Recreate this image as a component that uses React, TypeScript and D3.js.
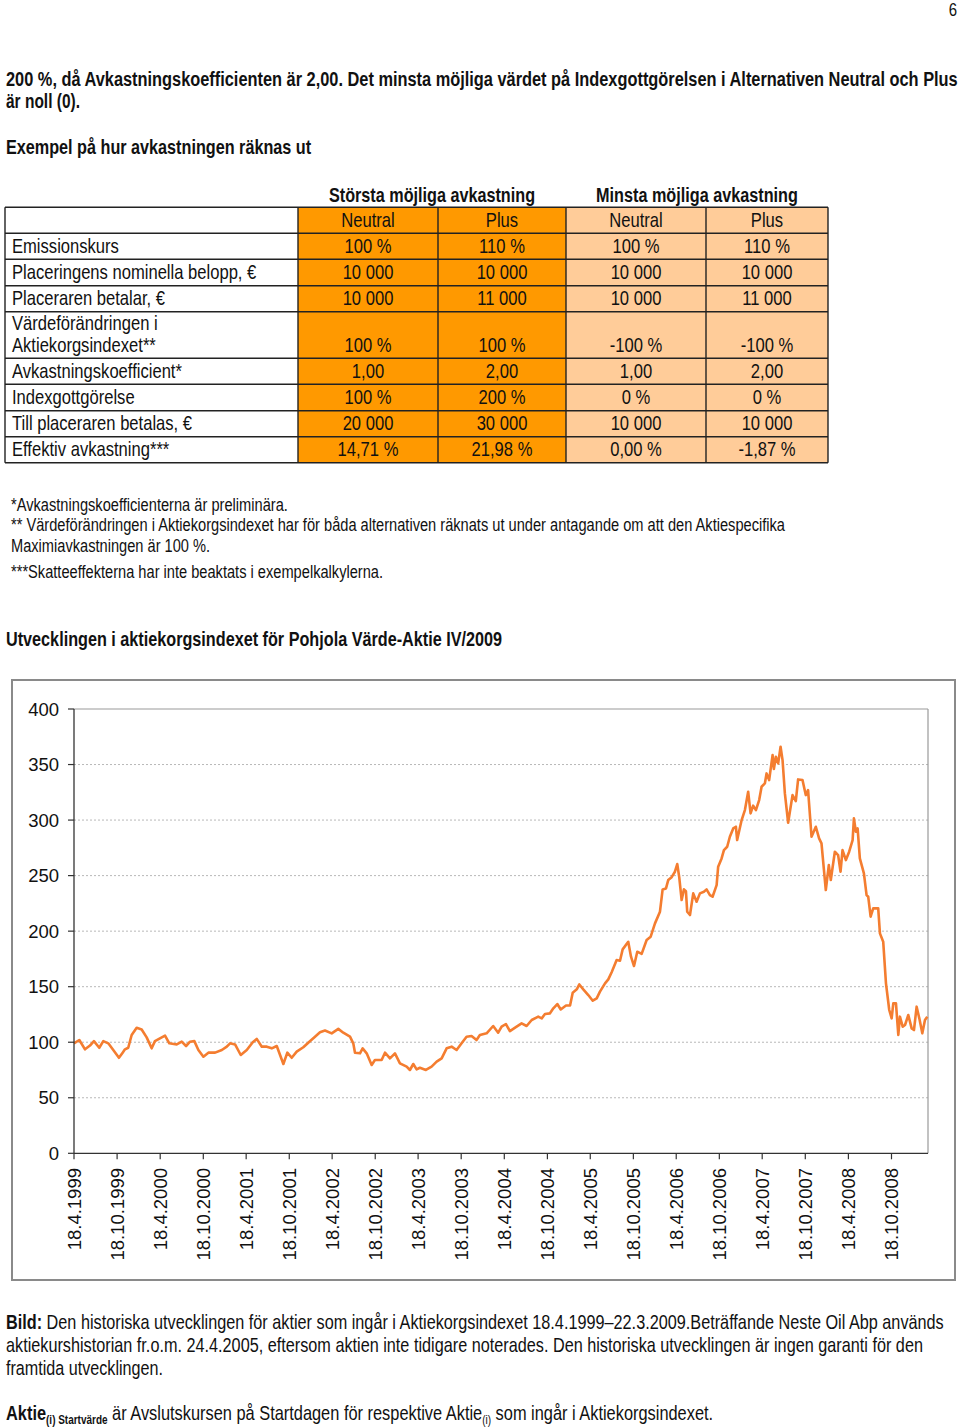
import React, { useLayoutEffect, useRef, useState } from 'react';
import * as d3 from 'd3';

// ---------- DATA ----------
const X_TICK_LABELS = [
  '18.4.1999', '18.10.1999', '18.4.2000', '18.10.2000', '18.4.2001', '18.10.2001',
  '18.4.2002', '18.10.2002', '18.4.2003', '18.10.2003', '18.4.2004', '18.10.2004',
  '18.4.2005', '18.10.2005', '18.4.2006', '18.10.2006', '18.4.2007', '18.10.2007',
  '18.4.2008', '18.10.2008',
];
const Y_TICKS = [0, 50, 100, 150, 200, 250, 300, 350, 400];
const DATE_START = '18.4.1999';
const DATE_END = '22.3.2009';

// [decimal year, index value]
const INDEX_POINTS: [number, number][] = [
  [1999.293, 99], [1999.355, 102], [1999.421, 93.6], [1999.479, 97], [1999.525, 101],
  [1999.587, 95], [1999.634, 101], [1999.692, 99], [1999.750, 93], [1999.816, 86],
  [1999.859, 90.6], [1999.886, 93.6], [1999.924, 95], [1999.964, 106.5], [2000.022, 113],
  [2000.080, 111.5], [2000.138, 104.4], [2000.196, 94.5], [2000.234, 101], [2000.292, 103.5],
  [2000.351, 106], [2000.401, 99], [2000.487, 98], [2000.545, 100.5], [2000.595, 96.6],
  [2000.641, 100.5], [2000.691, 101], [2000.738, 93], [2000.796, 87], [2000.854, 90.6],
  [2000.932, 90.6], [2001.010, 93], [2001.068, 96], [2001.106, 99], [2001.164, 98],
  [2001.230, 88.5], [2001.300, 93], [2001.370, 100], [2001.416, 103], [2001.475, 96],
  [2001.533, 96], [2001.591, 94.5], [2001.649, 96.6], [2001.726, 80.4], [2001.772, 90.6],
  [2001.823, 86], [2001.881, 91.5], [2001.958, 95.5], [2002.028, 100.5], [2002.094, 105],
  [2002.152, 109], [2002.210, 110.5], [2002.288, 108], [2002.365, 112], [2002.423, 108.6],
  [2002.501, 105], [2002.539, 99], [2002.559, 90.6], [2002.617, 90], [2002.648, 94.5],
  [2002.695, 90], [2002.753, 79.5], [2002.791, 84], [2002.869, 84], [2002.908, 90.6],
  [2002.966, 85.5], [2003.024, 90], [2003.082, 81], [2003.160, 78], [2003.198, 75],
  [2003.237, 80.4], [2003.276, 75.5], [2003.314, 77], [2003.384, 75], [2003.450, 78],
  [2003.509, 82.5], [2003.567, 85.5], [2003.625, 94.5], [2003.683, 96], [2003.741, 93],
  [2003.799, 99], [2003.857, 105], [2003.915, 105.6], [2003.973, 102],
  [2004.012, 106.5], [2004.090, 108], [2004.166, 114.6], [2004.224, 108.6], [2004.264, 114],
  [2004.314, 116.4], [2004.360, 110], [2004.438, 114], [2004.496, 117], [2004.554, 114.6],
  [2004.613, 120], [2004.689, 123], [2004.729, 121.5], [2004.767, 125.4], [2004.825, 126],
  [2004.864, 130.5], [2004.910, 134.4], [2004.950, 129.5], [2005.011, 133], [2005.058, 133],
  [2005.089, 144.6], [2005.136, 147.6], [2005.166, 152], [2005.212, 147.6], [2005.270, 142.5],
  [2005.322, 137.4], [2005.368, 139.5], [2005.406, 145.5], [2005.465, 153], [2005.503, 156.6],
  [2005.542, 163], [2005.600, 174], [2005.639, 173.4], [2005.670, 183.6], [2005.735, 190.4],
  [2005.767, 177], [2005.802, 168.6], [2005.840, 181.5], [2005.891, 179.5], [2005.949, 192],
  [2005.996, 195], [2006.046, 207], [2006.104, 217.5], [2006.135, 237.6], [2006.174, 238.5],
  [2006.200, 246], [2006.240, 248.6], [2006.278, 253.5], [2006.305, 260.4], [2006.328, 248.6],
  [2006.356, 228], [2006.383, 237.6], [2006.406, 236], [2006.421, 217.5], [2006.453, 214.5],
  [2006.491, 234], [2006.530, 226.5], [2006.569, 234], [2006.615, 235.5], [2006.646, 237.6],
  [2006.685, 232.5], [2006.716, 231], [2006.763, 241.5], [2006.781, 258], [2006.821, 265.5],
  [2006.848, 273], [2006.886, 276], [2006.917, 285],
  [2006.956, 292.5], [2006.987, 294], [2007.002, 282], [2007.054, 300], [2007.092, 309],
  [2007.130, 325.5], [2007.158, 306], [2007.188, 313], [2007.220, 309], [2007.258, 318],
  [2007.286, 330], [2007.324, 333], [2007.344, 342], [2007.374, 336], [2007.414, 358.5],
  [2007.429, 346], [2007.452, 357], [2007.479, 351], [2007.507, 366], [2007.530, 354],
  [2007.557, 324], [2007.595, 297.6], [2007.646, 322.5], [2007.684, 317], [2007.711, 336.6],
  [2007.762, 336], [2007.800, 322.5], [2007.827, 327], [2007.867, 285], [2007.917, 294],
  [2007.955, 283.5], [2007.983, 279], [2008.033, 237], [2008.068, 259.5], [2008.091, 246],
  [2008.138, 271.5], [2008.176, 268.5], [2008.204, 253.5], [2008.227, 273], [2008.266, 264],
  [2008.304, 271.5], [2008.344, 282], [2008.359, 301.5], [2008.382, 289.5], [2008.402, 292.5],
  [2008.428, 265.5], [2008.475, 252], [2008.506, 232.5], [2008.525, 231], [2008.553, 213],
  [2008.583, 220.5], [2008.641, 220.5], [2008.661, 198], [2008.699, 190.5], [2008.731, 153],
  [2008.769, 129], [2008.797, 121.5], [2008.816, 135], [2008.847, 135], [2008.874, 106.5],
  [2008.893, 123], [2008.925, 114], [2008.952, 115.5], [2008.990, 124.5], [2009.029, 112.5],
  [2009.056, 111], [2009.087, 132], [2009.118, 121.5], [2009.153, 108], [2009.184, 120],
  [2009.211, 123],
];

const TABLE_GROUP_HEADERS = ['Största möjliga avkastning', 'Minsta möjliga avkastning'];
const TABLE_COLUMN_HEADERS = ['Neutral', 'Plus', 'Neutral', 'Plus'];
const TABLE_ROW_LABELS = [
  ['Emissionskurs'],
  ['Placeringens nominella belopp, €'],
  ['Placeraren betalar, €'],
  ['Värdeförändringen i', 'Aktiekorgsindexet**'],
  ['Avkastningskoefficient*'],
  ['Indexgottgörelse'],
  ['Till placeraren betalas, €'],
  ['Effektiv avkastning***'],
];
const MAX_NEUTRAL = ['100 %', '10 000', '10 000', '100 %', '1,00', '100 %', '20 000', '14,71 %'];
const MAX_PLUS = ['110 %', '10 000', '11 000', '100 %', '2,00', '200 %', '30 000', '21,98 %'];
const MIN_NEUTRAL = ['100 %', '10 000', '10 000', '-100 %', '1,00', '0 %', '10 000', '0,00 %'];
const MIN_PLUS = ['110 %', '10 000', '11 000', '-100 %', '2,00', '0 %', '10 000', '-1,87 %'];

// ---------- STYLE ----------
const SANS = "'Liberation Sans', Arial, Helvetica, sans-serif";
const ORANGE = '#FF9900';
const PEACH = '#FFCC99';
const LINE = '#F47D30';
const TEXT = '#111';
const CONDENSE = 0.83;

const parseDMY = (s: string) => {
  const [d, m, y] = s.split('.').map(Number);
  return new Date(Date.UTC(y, m - 1, d));
};
const yearToDate = (t: number) => {
  const yr = Math.floor(t);
  const a = Date.UTC(yr, 0, 1);
  const b = Date.UTC(yr + 1, 0, 1);
  return new Date(a + (t - yr) * (b - a));
};

// chart geometry
const PL = 74, PR = 928, PT = 709, PB = 1153.3;

// text squeezed horizontally to a fixed factor (condensed look)
function CText({ x, y, size = 19.5, weight = 'normal', anchor = 'start', children }: any) {
  return (
    <text transform={`translate(${x},${y}) scale(${CONDENSE},1)`} x={0} y={0} textAnchor={anchor}
      fontFamily={SANS} fontSize={size} fontWeight={weight} fill={TEXT}>{children}</text>
  );
}

// text scaled horizontally to fit a measured target width
function FitText({ x, y, w, size = 19.5, weight = 'normal', anchor = 'start', children }: any) {
  const ref = useRef<SVGTextElement>(null);
  const [sx, setSx] = useState(CONDENSE);
  useLayoutEffect(() => {
    if (ref.current) {
      const len = ref.current.getComputedTextLength();
      if (len > 0) setSx(w / len);
    }
  }, [w]);
  return (
    <text ref={ref} transform={`translate(${x},${y}) scale(${sx},1)`} x={0} y={0} textAnchor={anchor}
      fontFamily={SANS} fontSize={size} fontWeight={weight} fill={TEXT}>{children}</text>
  );
}

function Table() {
  const colX = [5, 298, 438, 566, 706, 828];
  const rowH = [26, 26, 26.4, 26, 46.6, 26, 26.4, 26, 26];
  const top = 207.3;
  const rowY: number[] = [top];
  rowH.forEach((h, i) => rowY.push(rowY[i] + h));
  const cols = [MAX_NEUTRAL, MAX_PLUS, MIN_NEUTRAL, MIN_PLUS];
  const fills = [ORANGE, ORANGE, PEACH, PEACH];
  const els: any[] = [];
  cols.forEach((_, ci) => {
    els.push(<rect key={'bg' + ci} x={colX[ci + 1]} y={rowY[0]} width={colX[ci + 2] - colX[ci + 1]}
      height={rowY[rowY.length - 1] - rowY[0]} fill={fills[ci]} />);
  });
  TABLE_COLUMN_HEADERS.forEach((h, ci) => {
    els.push(<CText key={'ch' + ci} x={(colX[ci + 1] + colX[ci + 2]) / 2} y={rowY[0] + 20} size={20} anchor="middle">{h}</CText>);
  });
  TABLE_ROW_LABELS.forEach((lab, ri) => {
    const y0 = rowY[ri + 1];
    const y1 = rowY[ri + 2];
    const base = y1 - 6.5;
    if (lab.length === 2) {
      els.push(<CText key={'l' + ri + 'a'} x={12} y={y0 + 18.5} size={20}>{lab[0]}</CText>);
      els.push(<CText key={'l' + ri + 'b'} x={12} y={base} size={20}>{lab[1]}</CText>);
    } else {
      els.push(<CText key={'l' + ri} x={12} y={base} size={20}>{lab[0]}</CText>);
    }
    cols.forEach((col, ci) => {
      els.push(<CText key={'v' + ri + '-' + ci} x={(colX[ci + 1] + colX[ci + 2]) / 2} y={base} size={20} anchor="middle">{col[ri]}</CText>);
    });
  });
  rowY.forEach((y, i) => {
    els.push(<line key={'hr' + i} x1={colX[0]} x2={colX[5]} y1={y} y2={y} stroke="#222" strokeWidth={1.4} />);
  });
  colX.forEach((x, i) => {
    els.push(<line key={'vr' + i} x1={x} x2={x} y1={rowY[0]} y2={rowY[rowY.length - 1]} stroke="#222" strokeWidth={1.4} />);
  });
  els.push(<FitText key="g0" x={(colX[1] + colX[3]) / 2} y={201.5} w={206} size={20} weight="bold" anchor="middle">{TABLE_GROUP_HEADERS[0]}</FitText>);
  els.push(<FitText key="g1" x={(colX[3] + colX[5]) / 2} y={201.5} w={202} size={20} weight="bold" anchor="middle">{TABLE_GROUP_HEADERS[1]}</FitText>);
  return <g>{els}</g>;
}

function Chart() {
  const x = d3.scaleUtc().domain([parseDMY(DATE_START), parseDMY(DATE_END)]).range([PL, PR]);
  const y = d3.scaleLinear().domain([0, 400]).range([PB, PT]);
  const line = d3.line<[number, number]>()
    .x((d) => x(yearToDate(d[0])))
    .y((d) => y(d[1]));
  const tickDates = X_TICK_LABELS.map(parseDMY);
  return (
    <g>
      <rect x={12} y={680} width={943} height={600} fill="#fff" stroke="#8a8a8a" strokeWidth={2} />
      {Y_TICKS.filter((v) => v > 0 && v < 400).map((v) => (
        <line key={'g' + v} x1={PL} x2={PR} y1={y(v)} y2={y(v)} stroke="#b8b8b8" strokeWidth={1} strokeDasharray="2,2" />
      ))}
      <line x1={PL} x2={PR} y1={y(400)} y2={y(400)} stroke="#999" strokeWidth={1.2} />
      <line x1={PR} x2={PR} y1={y(400)} y2={y(0)} stroke="#999" strokeWidth={1.2} />
      <path d={line(INDEX_POINTS) || ''} fill="none" stroke={LINE} strokeWidth={2.6} strokeLinejoin="round" />
      <line x1={PL} x2={PL} y1={y(400)} y2={y(0)} stroke="#333" strokeWidth={1.3} />
      <line x1={PL} x2={PR} y1={y(0)} y2={y(0)} stroke="#333" strokeWidth={1.3} />
      {Y_TICKS.map((v) => (
        <g key={'yt' + v}>
          <line x1={PL - 6} x2={PL} y1={y(v)} y2={y(v)} stroke="#333" strokeWidth={1.2} />
          <text x={59} y={y(v) + 6.5} textAnchor="end" fontFamily={SANS} fontSize={18.5} fill={TEXT}>{v}</text>
        </g>
      ))}
      {tickDates.map((d, i) => (
        <g key={'xt' + i}>
          <line x1={x(d)} x2={x(d)} y1={y(0)} y2={y(0) + 6} stroke="#333" strokeWidth={1.2} />
          <text transform={`translate(${x(d)},${1168}) rotate(-90)`} textAnchor="end" dy="0.36em"
            fontFamily={SANS} fontSize={18.5} fill={TEXT}>{X_TICK_LABELS[i]}</text>
        </g>
      ))}
    </g>
  );
}

export default function App() {
  return (
    <div style={{ position: 'absolute', left: 0, top: 0 }}>
      <svg width={960} height={1427} style={{ display: 'block', background: '#fff' }}>
        <CText x={957} y={16} size={18} anchor="end">6</CText>
        <FitText x={6} y={86} w={951} size={20} weight="bold">200 %, då Avkastningskoefficienten är 2,00. Det minsta möjliga värdet på Indexgottgörelsen i Alternativen Neutral och Plus</FitText>
        <FitText x={6} y={108} w={74} size={20} weight="bold">är noll (0).</FitText>
        <FitText x={6} y={154} w={305} size={20} weight="bold">Exempel på hur avkastningen räknas ut</FitText>
        <Table />
        <FitText x={11} y={511} w={277} size={17.5}>*Avkastningskoefficienterna är preliminära.</FitText>
        <FitText x={11} y={531} w={774} size={17.5}>** Värdeförändringen i Aktiekorgsindexet har för båda alternativen räknats ut under antagande om att den Aktiespecifika</FitText>
        <FitText x={11} y={552} w={199} size={17.5}>Maximiavkastningen är 100 %.</FitText>
        <FitText x={11} y={578} w={372} size={17.5}>***Skatteeffekterna har inte beaktats i exempelkalkylerna.</FitText>
        <FitText x={6} y={646} w={496} size={20} weight="bold">Utvecklingen i aktiekorgsindexet för Pohjola Värde-Aktie IV/2009</FitText>
        <Chart />
        <FitText x={6} y={1329} w={938} size={20.5}>
          <tspan fontWeight="bold">Bild:</tspan>
          <tspan> Den historiska utvecklingen för aktier som ingår i Aktiekorgsindexet 18.4.1999–22.3.2009.Beträffande Neste Oil Abp används</tspan>
        </FitText>
        <FitText x={6} y={1352} w={917} size={20.5}>aktiekurshistorian fr.o.m. 24.4.2005, eftersom aktien inte tidigare noterades. Den historiska utvecklingen är ingen garanti för den</FitText>
        <FitText x={6} y={1375} w={157} size={20.5}>framtida utvecklingen.</FitText>
        <FitText x={6} y={1420} w={707} size={20.5}>
          <tspan fontWeight="bold">Aktie</tspan>
          <tspan fontWeight="bold" fontSize={12.5} dy={4}>(i) Startvärde</tspan>
          <tspan dy={-4}> är Avslutskursen på Startdagen för respektive Aktie</tspan>
          <tspan fontSize={12.5} dy={4}>(i)</tspan>
          <tspan dy={-4}> som ingår i Aktiekorgsindexet.</tspan>
        </FitText>
      </svg>
    </div>
  );
}
